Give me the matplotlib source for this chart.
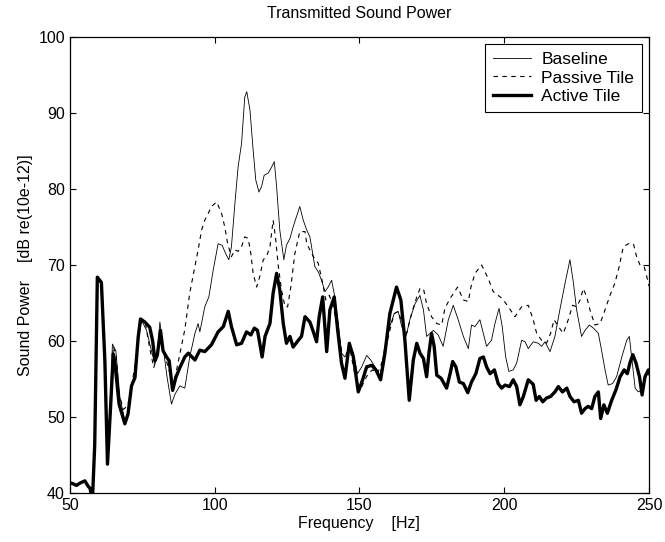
import matplotlib
matplotlib.use("Agg")
import matplotlib.pyplot as plt

plt.rcParams['font.family'] = ['Liberation Sans', 'DejaVu Sans']

# low-frequency part shared by all three curves
low_f = [50.0, 50.6, 52.3, 53.5, 55.2, 56.3, 57.0, 57.8, 58.6, 59.5, 60.9, 62.1, 63.0]
low_db = [41.2, 41.3, 41.0, 41.3, 41.6, 40.9, 40.6, 39.0, 46.4, 68.4, 67.7, 57.4, 43.8]

active_f = low_f + [
    64.0, 65.0, 65.5, 67.0, 69.0, 70.1, 71.3, 72.5, 73.6, 74.4, 75.9, 77.6, 78.6, 79.4,
    80.2, 81.3, 82.2, 83.4, 84.3, 85.5, 86.6, 88.0, 89.7, 90.9, 93.2, 94.9, 96.6, 98.9,
    101.2, 103.0, 104.7, 105.8, 107.6, 109.3, 111.0, 112.5, 113.7, 114.8, 116.4, 117.4,
    119.1, 120.2, 121.4, 122.5, 123.7, 124.8, 126.0, 127.1, 128.9, 130.0, 131.2, 132.9,
    134.1, 135.2, 136.1, 137.3, 138.7, 139.8, 141.3, 142.5, 143.8, 145.0, 146.5, 147.9,
    149.6, 151.1, 152.5, 154.2, 155.7, 157.3, 158.8, 160.5, 162.8, 164.3, 165.7, 167.2,
    168.6, 169.8, 170.9, 172.1, 173.2, 174.0, 174.9, 175.8, 176.7, 178.2, 180.1, 181.3,
    182.2, 183.3, 184.5, 185.9, 187.4, 188.7, 190.2, 191.6, 192.8, 193.9, 195.1, 196.6,
    197.9, 199.1, 200.3, 201.8, 203.1, 204.3, 205.4, 206.6, 208.3, 210.0, 211.0, 212.1,
    213.3, 214.6, 216.0, 217.5, 218.7, 220.1, 221.6, 222.7, 224.1, 225.6, 226.7, 227.9,
    229.0, 230.2, 231.3, 232.5, 233.3, 234.4, 235.6, 237.1, 238.6, 240.0, 241.4, 242.5,
    243.4, 244.4, 245.5, 246.7, 247.6, 248.6, 249.8, 250.0]
active_db = low_db + [
    50.8, 58.3, 57.4, 51.7, 49.1, 50.4, 54.1, 55.2, 60.5, 62.9, 62.5, 61.8, 60.0, 57.4,
    58.1, 61.4, 58.7, 57.9, 57.4, 53.5, 55.2, 56.5, 57.9, 58.4, 57.5, 58.8, 58.6, 59.5,
    61.2, 61.9, 63.9, 61.9, 59.5, 59.7, 61.2, 60.8, 61.7, 61.4, 57.9, 60.6,
    62.3, 66.3, 68.9, 66.7, 62.3, 59.7, 60.6, 59.2, 60.1, 60.6, 63.2, 62.5,
    61.2, 59.9, 63.2, 65.8, 58.6, 64.1, 65.8, 61.4, 57.1, 55.1, 59.7, 57.9,
    53.3, 54.9, 56.6, 56.8, 56.2, 54.9, 58.4, 63.6, 67.1, 65.4, 60.1, 52.2,
    57.5, 59.7, 58.4, 57.7, 55.3, 58.4, 61.0, 59.3, 55.5, 55.1, 53.8, 55.7,
    57.3, 56.6, 54.6, 54.4, 53.2, 54.6, 55.7, 57.7, 57.9, 56.6, 55.7, 56.2,
    54.4, 53.8, 54.2, 54.0, 54.9, 54.0, 51.6, 52.7, 54.9, 54.3, 52.2, 52.7,
    52.0, 52.5, 52.7, 53.3, 54.0, 53.3, 53.8, 52.7, 52.0, 52.2, 50.5, 51.1,
    51.4, 51.1, 52.7, 53.3, 49.8, 51.6, 50.5, 52.2, 53.6, 55.3, 56.2, 55.7,
    57.1, 58.2, 57.1, 55.3, 52.9, 55.3, 56.2, 55.8]

baseline_f = low_f + [
    64.0, 64.7, 65.9, 67.3, 69.0, 70.1, 71.3, 72.5, 73.6, 74.8, 76.5, 78.2, 79.4, 80.2,
    81.1, 82.2, 83.6, 85.1, 86.3, 88.0, 89.7, 91.4, 93.2, 94.3, 94.9, 96.6, 98.0, 99.5,
    101.2, 102.6, 103.8, 104.9, 105.8, 107.0, 108.1, 109.3, 110.4, 111.1, 112.2, 113.3,
    114.2, 115.3, 116.2, 117.1, 118.5, 119.7, 120.6, 121.4, 122.5, 123.9, 124.8, 126.0,
    127.1, 128.3, 129.4, 130.6, 131.8, 132.9, 134.6, 135.8, 136.9, 138.1, 139.2, 140.4,
    141.5, 142.7, 143.8, 145.0, 146.7, 147.9, 149.3, 150.8, 152.5, 153.9, 155.4, 157.1,
    158.8, 160.5, 162.0, 163.4, 164.6, 166.1, 167.4, 169.2, 170.9, 172.1, 173.2, 174.4,
    175.5, 177.2, 178.9, 180.7, 182.4, 184.1, 185.9, 187.6, 188.7, 189.9, 191.6, 192.8,
    193.9, 195.6, 196.8, 198.2, 199.3, 200.5, 201.6, 203.1, 204.3, 206.0, 207.2, 208.3,
    210.0, 211.8, 212.9, 214.1, 215.8, 217.5, 219.2, 221.0, 222.7, 223.9, 225.0, 226.7,
    227.9, 229.4, 230.8, 232.5, 233.6, 234.8, 235.9, 237.4, 238.8, 240.6, 242.3, 243.2,
    244.0, 245.2, 246.3, 247.8, 249.2, 250.0]
baseline_db = low_db + [
    52.0, 59.6, 58.7, 52.6, 49.5, 50.6, 54.0, 55.5, 60.3, 62.7, 61.4, 58.7, 57.0, 58.3,
    62.5, 59.2, 55.2, 51.7, 53.0, 54.1, 53.8, 57.9, 61.0, 62.3, 61.2, 64.5, 65.8, 69.3,
    72.8, 72.6, 71.5, 70.7, 72.4, 78.1, 82.9, 86.0, 92.1, 92.8, 90.4, 85.1,
    81.2, 79.6, 80.3, 81.8, 82.1, 82.9, 83.6, 80.3, 74.6, 70.7, 72.6, 73.5,
    75.0, 76.4, 77.7, 75.9, 74.6, 73.7, 69.8, 69.1, 68.0, 66.5, 67.1, 68.0,
    65.8, 62.3, 58.4, 57.9, 59.3, 58.4, 55.7, 56.6, 58.1, 57.5, 56.6, 55.3,
    59.3, 61.9, 63.6, 63.9, 61.9, 60.6, 62.8, 64.9, 66.0, 64.1, 60.6, 61.0,
    61.4, 60.8, 59.3, 62.8, 64.7, 62.8, 60.6, 59.0, 62.1, 61.9, 62.8, 61.0,
    59.3, 60.1, 62.3, 64.3, 61.9, 57.9, 56.0, 56.2, 57.1, 60.1, 59.9, 59.0,
    59.9, 59.7, 59.3, 59.9, 58.6, 60.6, 64.1, 67.6, 70.7, 67.6, 64.1, 60.6,
    61.4, 62.1, 61.7, 61.0, 58.8, 56.2, 54.2, 54.4, 55.3, 57.9, 60.1, 60.6,
    57.9, 53.8, 53.3, 53.6, 55.7, 55.5]

passive_f = low_f + [
    64.0, 65.0, 66.0, 67.0, 68.5, 70.0, 71.5, 73.0, 74.5, 76.0, 77.6, 79.0, 80.3, 81.3,
    82.5, 84.0, 85.5, 86.5, 88.0, 89.7, 91.4, 93.2, 94.3, 95.5, 96.6, 97.8, 98.9, 100.7,
    102.4, 103.5, 104.5, 105.8, 107.0, 108.1, 109.3, 110.4, 111.6, 112.5, 113.3, 114.5,
    115.6, 116.8, 117.9, 119.1, 120.2, 121.0, 122.0, 123.1, 124.3, 125.2, 126.3, 127.7,
    129.4, 131.2, 131.8, 134.1, 135.8, 137.3, 138.4, 139.6, 141.0, 142.1, 143.8, 145.6,
    146.7, 148.4, 150.2, 151.9, 153.0, 154.5, 156.2, 157.7, 159.2, 160.5, 162.0, 163.4,
    164.6, 166.3, 168.0, 169.8, 170.9, 172.1, 173.2, 174.9, 176.7, 178.4, 179.5, 181.3,
    183.9, 185.9, 187.6, 188.5, 189.9, 192.2, 194.5, 196.2, 197.9, 199.3, 201.4, 203.7,
    206.0, 208.3, 210.0, 211.2, 212.9, 214.6, 216.0, 217.2, 218.7, 220.4, 222.1, 223.6,
    225.0, 226.2, 227.3, 228.5, 229.6, 231.3, 233.1, 234.8, 236.5, 238.2, 239.7, 241.1,
    242.9, 244.6, 245.7, 246.9, 248.3, 249.2, 250.0]
passive_db = low_db[:-1] + [45.0] + [
    52.0, 59.3, 58.0, 53.0, 51.0, 51.5, 54.5, 58.0, 62.5, 62.5, 59.0, 56.5, 58.5, 61.5,
    58.5, 56.5, 54.5, 55.5, 58.3, 61.5, 66.3, 69.8, 72.0, 74.6, 75.9, 76.8, 77.7, 78.3,
    76.8, 75.0, 72.8, 71.1, 72.0, 71.8, 72.4, 73.7, 73.5, 71.5, 68.9, 67.1,
    68.5, 70.7, 71.1, 72.4, 75.9, 73.7, 69.8, 66.7, 64.5, 64.5, 67.1, 71.5,
    74.4, 74.4, 72.8, 71.1, 70.2, 67.6, 65.4, 66.0, 64.5, 62.3, 58.8, 58.4,
    59.0, 55.7, 53.5, 54.9, 55.7, 56.2, 55.7, 57.1, 59.3, 61.4, 63.6, 63.9,
    62.5, 61.0, 63.6, 65.8, 66.9, 66.9, 64.9, 63.2, 62.3, 62.1, 64.3, 65.6,
    67.1, 65.4, 65.2, 67.1, 68.9, 70.0, 68.2, 66.5, 66.0, 65.6, 64.5, 63.2,
    64.5, 64.7, 62.8, 61.0, 60.1, 59.7, 61.0, 62.8, 61.9, 61.0, 62.8, 64.7,
    64.5, 65.4, 66.9, 65.8, 64.1, 62.1, 62.3, 64.1, 66.0, 67.6, 69.8, 72.4,
    72.8, 72.8, 71.1, 70.0, 69.8, 68.5, 67.2]


def plot():
    fig = plt.figure(figsize=(6.65, 5.42), dpi=100)
    ax = fig.add_axes([0.105, 0.0904, 0.871, 0.8413])

    ax.plot(baseline_f, baseline_db, color="black", lw=0.6, label="Baseline")
    ax.plot(passive_f, passive_db, color="black", lw=0.8, ls=(0, (4, 4)), label="Passive Tile")
    ax.plot(active_f, active_db, color="black", lw=2.4, label="Active Tile")

    ax.set_xlim(50, 250)
    ax.set_ylim(40, 100)
    ax.set_xticks(range(50, 251, 50))
    ax.set_yticks(range(40, 101, 10))
    ax.tick_params(direction="in", top=True, right=True, length=4, width=0.8, labelsize=11.5)
    for s in ax.spines.values():
        s.set_linewidth(0.9)

    ax.set_title("Transmitted Sound Power", fontsize=11.5, pad=14)
    ax.set_xlabel("Frequency    [Hz]", fontsize=11.5, labelpad=2)
    ax.set_ylabel("Sound Power    [dB re(10e-12)]", fontsize=11.5, labelpad=4)

    leg = ax.legend(loc="upper right", fontsize=12.5, fancybox=False, framealpha=1,
                    edgecolor="black", handlelength=2.2, borderaxespad=0.4,
                    borderpad=0.45, labelspacing=0.2, handletextpad=0.6)
    leg.get_frame().set_linewidth(0.8)

    fig.savefig("out.png", dpi=100)
    plt.close(fig)


if __name__ == "__main__":
    plot()
